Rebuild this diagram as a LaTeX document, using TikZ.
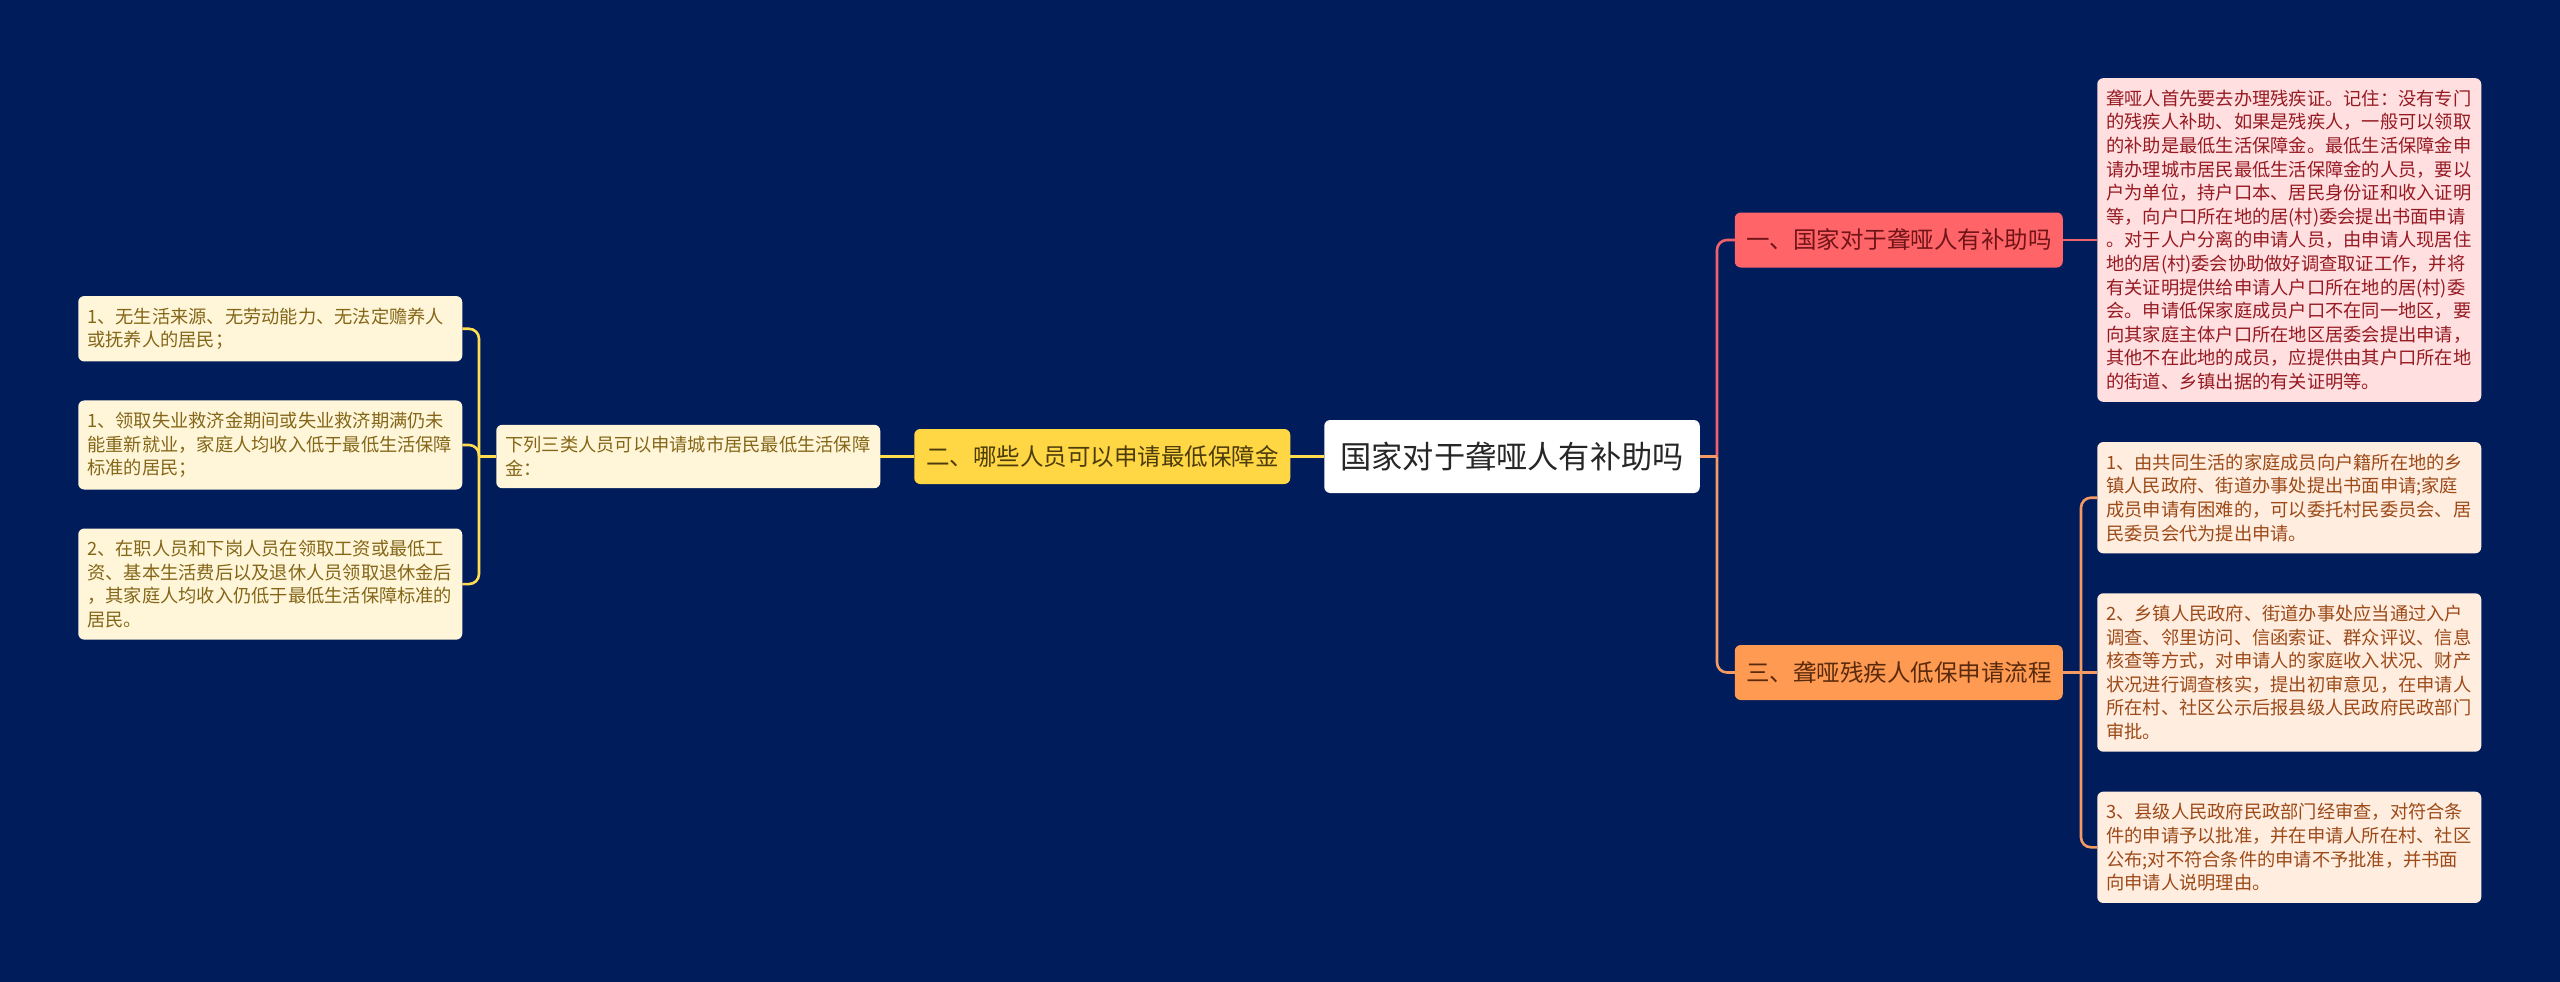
\documentclass[tikz,border=0pt]{standalone}
\usepackage{fontspec}
\setmainfont{Noto Sans CJK SC}
\usepackage{tikz}
\usetikzlibrary{positioning}
\definecolor{navybg}{HTML}{011C5B}
\definecolor{redfill}{HTML}{FF6468}
\definecolor{redsoft}{HTML}{FFDFE0}
\definecolor{redtext}{HTML}{961A22}
\definecolor{redhead}{HTML}{701418}
\definecolor{redline}{HTML}{F0626A}
\definecolor{orangefill}{HTML}{FF9A52}
\definecolor{orangesoft}{HTML}{FFEDE0}
\definecolor{orangetext}{HTML}{9C4A18}
\definecolor{orangehead}{HTML}{5A2A0C}
\definecolor{orangeline}{HTML}{F49A62}
\definecolor{yellowfill}{HTML}{FFD643}
\definecolor{yellowsoft}{HTML}{FFF6D9}
\definecolor{yellowtext}{HTML}{846618}
\definecolor{yellowhead}{HTML}{4C3C0C}
\definecolor{yellowline}{HTML}{FFDC50}
\tikzset{
  box/.style={rounded corners=6pt,align=left,outer sep=0pt},
  rootbox/.style={box,fill=white,text=black!85,minimum width=375.5pt,minimum height=73pt,
    align=center,font=\fontsize{31.2}{36}\selectfont},
  headbox/.style={box,minimum height=55pt,align=center,font=\fontsize{23.5}{28}\selectfont},
  textbox/.style={box,text width=366pt,inner xsep=9pt,inner ysep=11.7pt,
    font=\fontsize{18.25}{23.6}\selectfont},
  redbox/.style={textbox,fill=redsoft,text=redtext},
  orangebox/.style={textbox,fill=orangesoft,text=orangetext},
  yellowbox/.style={textbox,fill=yellowsoft,text=yellowtext},
  link/.style={line width=2.6pt,rounded corners=10pt},
}
\begin{document}
\begin{tikzpicture}[x=1pt,y=1pt]
            \fill[navybg] (0,0) rectangle (2560,-982);
            \useasboundingbox (0,0) rectangle (2560,-982);
            \node[rootbox] (root) at (1512,-456.5){国家对于聋哑人有补助吗};
            \node[headbox,fill=redfill,text=redhead,minimum width=328pt] (subsidy)[right=35pt of root,yshift=216.5pt]{一、国家对于聋哑人有补助吗};
            \node[headbox,fill=orangefill,text=orangehead,minimum width=328pt] (process)[right=35pt of root,yshift=-216pt]{三、聋哑残疾人低保申请流程};
            \node[headbox,fill=yellowfill,text=yellowhead,minimum width=376pt] (who)[left=34pt of root]{二、哪些人员可以申请最低保障金};
            \node[yellowbox] (list)[left=34pt of who]{下列三类人员可以申请城市居民最低生活保障\\金：};
            \node[yellowbox] (itemb)[left=34pt of list,yshift=11.5pt]{1、领取失业救济金期间或失业救济期满仍未\\能重新就业，家庭人均收入低于最低生活保障\\标准的居民；};
            \node[yellowbox] (itema)[above=39pt of itemb]{1、无生活来源、无劳动能力、无法定赡养人\\或抚养人的居民；};
            \node[yellowbox] (itemc)[below=39pt of itemb]{2、在职人员和下岗人员在领取工资或最低工\\资、基本生活费后以及退休人员领取退休金后\\，其家庭人均收入仍低于最低生活保障标准的\\居民。};
            \node[redbox] (note)[right=34.5pt of subsidy]{聋哑人首先要去办理残疾证。记住：没有专门\\的残疾人补助、如果是残疾人，一般可以领取\\的补助是最低生活保障金。最低生活保障金申\\请办理城市居民最低生活保障金的人员，要以\\户为单位，持户口本、居民身份证和收入证明\\等，向户口所在地的居(村)委会提出书面申请\\。对于人户分离的申请人员，由申请人现居住\\地的居(村)委会协助做好调查取证工作，并将\\有关证明提供给申请人户口所在地的居(村)委\\会。申请低保家庭成员户口不在同一地区，要\\向其家庭主体户口所在地区居委会提出申请，\\其他不在此地的成员，应提供由其户口所在地\\的街道、乡镇出据的有关证明等。};
            \node[orangebox] (stepb)[right=34.5pt of process]{2、乡镇人民政府、街道办事处应当通过入户\\调查、邻里访问、信函索证、群众评议、信息\\核查等方式，对申请人的家庭收入状况、财产\\状况进行调查核实，提出初审意见，在申请人\\所在村、社区公示后报县级人民政府民政部门\\审批。};
            \node[orangebox] (stepa)[above=40pt of stepb]{1、由共同生活的家庭成员向户籍所在地的乡\\镇人民政府、街道办事处提出书面申请;家庭\\成员申请有困难的，可以委托村民委员会、居\\民委员会代为提出申请。};
            \node[orangebox] (stepc)[below=40pt of stepb]{3、县级人民政府民政部门经审查，对符合条\\件的申请予以批准，并在申请人所在村、社区\\公布;对不符合条件的申请不予批准，并书面\\向申请人说明理由。};
            \coordinate (rootjoin) at (1717,-456.5);
            \coordinate (stepjoin) at (2081,-672.7);
            \coordinate (itemjoin) at (479,-456.5);
            \draw[link,redline](rootjoin) |- (subsidy.west);
            \draw[link,redline](subsidy.east) -- (note.west);
            \draw[link,orangeline](rootjoin) |- (process.west);
            \draw[link,orangeline](root.east) -- (rootjoin);
            \draw[link,orangeline](process.east) -- (stepb.west);
            \draw[link,orangeline](stepjoin) |- (stepa.west);
            \draw[link,orangeline](stepjoin) |- (stepc.west);
            \draw[link,yellowline](root.west) -- (who.east);
            \draw[link,yellowline](who.west) -- (list.east);
            \draw[link,yellowline](list.west) -- (itemjoin);
            \draw[link,yellowline](itemjoin) |- (itema.east);
            \draw[link,yellowline](itemjoin) |- (itemb.east);
            \draw[link,yellowline](itemjoin) |- (itemc.east);
\end{tikzpicture}
\end{document}
